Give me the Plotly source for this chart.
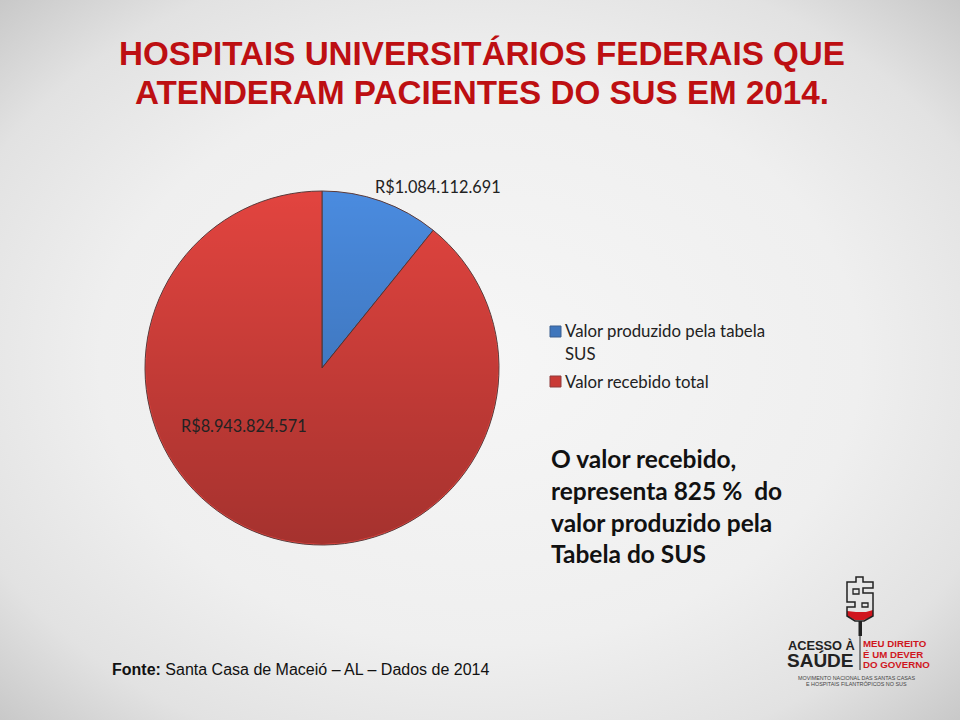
import base64
import plotly.graph_objects as go

categories = ["Valor produzido pela tabela<br>SUS", "Valor recebido total"]
values = [1084112691, 8943824571]
value_labels = ["R$1.084.112.691", "R$8.943.824.571"]
colors = ["#4A8BDF", "#E2443F"]
title_lines = ["HOSPITAIS UNIVERSITÁRIOS FEDERAIS QUE", "ATENDERAM PACIENTES DO SUS EM 2014."]
note_lines = ["O valor recebido,", "representa 825 %  do", "valor produzido pela", "Tabela do SUS"]
source_bold = "Fonte:"
source_text = " Santa Casa de Maceió – AL – Dados de 2014"

W, H = 960, 720
def X(p): return p / W
def Y(p): return 1 - p / H
def uri(svg): return "data:image/svg+xml;base64," + base64.b64encode(svg.encode()).decode()

bg = uri(f'''<svg xmlns="http://www.w3.org/2000/svg" width="{W}" height="{H}">
<defs><radialGradient id="g" cx="50%" cy="50%" r="72%">
<stop offset="0" stop-color="#f6f6f6"/><stop offset=".55" stop-color="#efefef"/>
<stop offset=".8" stop-color="#e2e2e2"/><stop offset="1" stop-color="#c6c6c6"/></radialGradient></defs>
<rect width="{W}" height="{H}" fill="url(#g)"/></svg>''')

shade = uri('''<svg xmlns="http://www.w3.org/2000/svg" width="354" height="354">
<defs><linearGradient id="s" x1="0" y1="0" x2="0" y2="1">
<stop offset="0" stop-color="#000" stop-opacity="0"/><stop offset="1" stop-color="#000" stop-opacity=".27"/></linearGradient></defs>
<circle cx="177" cy="177" r="176" fill="url(#s)"/></svg>''')

fig = go.Figure(go.Pie(
    labels=categories, values=values, sort=False, direction="clockwise", rotation=0,
    marker=dict(colors=colors, line=dict(color="#5a3a3a", width=1)),
    textinfo="none", hoverinfo="label+value", showlegend=False,
    domain=dict(x=[X(145), X(499)], y=[Y(545), Y(191)]),
))

def text(x, y, s, size, color="#222222", family="Lato", anchor="left", bold=False):
    fig.add_annotation(xref="paper", yref="paper", x=X(x), y=Y(y), text=f"<b>{s}</b>" if bold else s,
                       showarrow=False, xanchor=anchor, yanchor="middle",
                       font=dict(size=size, color=color, family=family), borderpad=0, borderwidth=0)

for line, y in zip(title_lines, [54, 93]):
    text(482, y, line, 33.2, "#BD0F12", "Liberation Sans", "center", True)
text(375, 187, value_labels[0], 16.3)
text(181, 425, value_labels[1], 16.3)
for line, y in zip(note_lines, [458, 490, 522, 553]):
    text(551, y, line, 24.5, "#111111", "Lato", bold=True)
text(112, 669, f"<b>{source_bold}</b>{source_text}", 16, "#111111", "Liberation Sans")

# legend, laid out to the reference's tight swatch-to-text spacing
first, second = categories[0].split("<br>"), categories[1]
text(565, 331, first[0], 16.8)
text(565, 353, first[1], 16.8)
text(565, 381, second, 16.8)

# logo
text(788, 645, "ACESSO À", 12.8, "#222222", "Liberation Sans", "left", True)
text(787, 660, "SAÚDE", 19, "#222222", "Liberation Sans", "left", True)
for line, y in zip(["MEU DIREITO", "É UM DEVER", "DO GOVERNO"], [643, 654, 664]):
    text(863, y, line, 9.7, "#D0161E", "Liberation Sans", bold=True)
text(856, 678, "MOVIMENTO NACIONAL DAS SANTAS CASAS", 5.4, "#444444", "Liberation Sans", "center")
text(856, 684, "E HOSPITAIS FILANTRÓPICOS NO SUS", 5.4, "#444444", "Liberation Sans", "center")

def pix_path(pts):
    return "M" + " L".join(f"{X(a):.5f},{Y(b):.5f}" for a, b in pts) + " Z"

outline = [(856,582),(856,577),(863,577),(863,582),(873,582),(873,588),(863,588),(863,593),(873,593),
           (873,616),(864,621),(855,621),(847,616),(847,607),(855,607),(855,602),(847,602),(847,582)]
INK = "#222222"
shape = lambda **k: dict(xref="paper", yref="paper", **k)
fig.update_layout(shapes=[
    shape(type="path", path=pix_path([(847,611),(856,612),(866,612),(873,610),(873,616),(864,620),(855,620),(847,616)]),
          fillcolor="#D0161E", line=dict(width=0)),
    shape(type="path", path=pix_path(outline), fillcolor="rgba(0,0,0,0)", line=dict(color=INK, width=1.5)),
    shape(type="rect", x0=X(853), x1=X(859), y0=Y(594), y1=Y(589), line=dict(color=INK, width=1.3)),
    shape(type="rect", x0=X(862), x1=X(868), y0=Y(607), y1=Y(603), line=dict(color=INK, width=1.3)),
    shape(type="rect", x0=X(858.5), x1=X(862), y0=Y(621), y1=Y(636), fillcolor=INK, line=dict(width=0)),
    shape(type="line", x0=X(860), x1=X(860), y0=Y(636), y1=Y(670), line=dict(color=INK, width=1)),
    shape(type="rect", x0=X(550), x1=X(561), y0=Y(337), y1=Y(326), fillcolor="#3F76BC", line=dict(color="#3a5f8f", width=1)),
    shape(type="rect", x0=X(550), x1=X(561), y0=Y(387), y1=Y(376), fillcolor="#C93A36", line=dict(color="#8f3a3a", width=1)),
])

fig.update_layout(
    width=W, height=H, margin=dict(l=0, r=0, t=0, b=0), autosize=False,
    paper_bgcolor="#efefef", showlegend=False,
    images=[
        dict(source=bg, xref="paper", yref="paper", x=0, y=1, sizex=1, sizey=1,
             xanchor="left", yanchor="top", sizing="stretch", layer="below"),
        dict(source=shade, xref="paper", yref="paper", x=X(145), y=Y(191), sizex=354/W, sizey=354/H,
             xanchor="left", yanchor="top", sizing="stretch", layer="above"),
    ],
)
fig.write_html("out.html", config={"displayModeBar": False},
               post_script="document.body.style.margin='0';document.body.style.overflow='hidden';")
